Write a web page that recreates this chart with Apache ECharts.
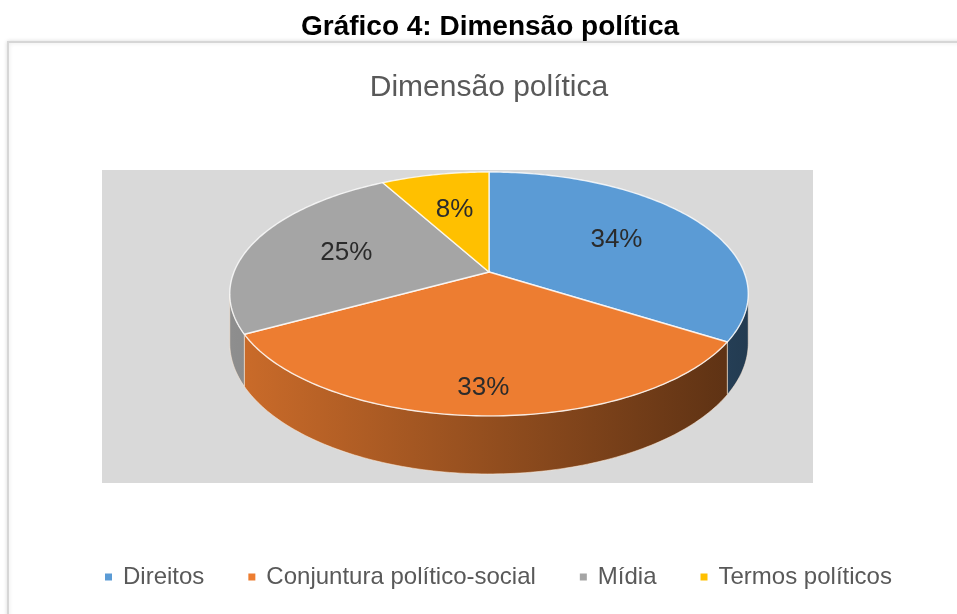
<!DOCTYPE html>
<html>
<head>
<meta charset="utf-8">
<script src="https://cdn.jsdelivr.net/npm/echarts@6/dist/echarts.min.js"></script>
<style>
html, body { margin: 0; padding: 0; background: #fff; }
#chart { width: 957px; height: 614px; }
</style>
</head>
<body>
<div id="chart"></div>
<script>
const categories = ['Direitos', 'Conjuntura político-social', 'Mídia', 'Termos políticos'];
const shares = [34, 33, 25, 8];
const sliceColors = ['#5b9bd5', '#ed7d31', '#a5a5a5', '#ffc000'];
const pageTitle = 'Gráfico 4: Dimensão política';
const chartTitle = 'Dimensão política';

// pie geometry, tilted disc with a little perspective (like the Excel 3D pie)
const pieX = 489, pieY = 272, radX = 255, radY = 118, persp = 0.18, thick = 47.6;
const edgeL = Math.acos(-persp);          // where the side wall becomes visible
const edgeR = Math.PI * 2 - edgeL;

function proj(r, ang, down) {
    let X = r * Math.sin(ang);
    let Z = r * Math.cos(ang);
    let w = 1 + persp * Z;
    return [pieX + radX * X / w, pieY - radY * Z / w + down * thick / w];
}

function arc(a0, a1, down) {
    let pts = [];
    let n = Math.max(2, Math.ceil((a1 - a0) / (Math.PI / 180)));
    for (let i = 0; i <= n; i++) {
        pts.push(proj(1, a0 + (a1 - a0) * i / n, down));
    }
    return pts;
}

function shade(hex, k) {
    let c = parseInt(hex.slice(1), 16);
    let r = Math.round(((c >> 16) & 255) * k);
    let g = Math.round(((c >> 8) & 255) * k);
    let b = Math.round((c & 255) * k);
    return 'rgb(' + r + ',' + g + ',' + b + ')';
}

const total = shares.reduce((a, b) => a + b, 0);

function renderSlice(idx) {
    return function (params, api) {
        let before = 0;
        for (let i = 0; i < idx; i++) before += shares[i];
        let value = api.value(0);
        let a0 = before / total * Math.PI * 2;
        let a1 = (before + value) / total * Math.PI * 2;
        let color = sliceColors[idx];
        let children = [];

        // outer wall, only the front part shows
        let s0 = Math.max(a0, edgeL), s1 = Math.min(a1, edgeR);
        if (s1 > s0) {
            let pts = arc(s0, s1, 0).concat(arc(s0, s1, 1).reverse());
            children.push({
                type: 'polygon',
                shape: { points: pts },
                style: {
                    fill: new echarts.graphic.LinearGradient(232, 0, 748, 0, [
                        { offset: 0, color: shade(color, 0.86) },
                        { offset: 1, color: shade(color, 0.38) }
                    ], true),
                    stroke: 'rgba(255,235,215,0.55)',
                    lineWidth: 1
                }
            });
        }

        // top face
        children.push({
            type: 'polygon',
            shape: { points: [proj(0, 0, 0)].concat(arc(a0, a1, 0)) },
            style: { fill: color, stroke: 'rgba(255,255,255,0.8)', lineWidth: 1.4, lineJoin: 'round' }
        });

        // percent label
        let mid = (a0 + a1) / 2;
        let front = (mid > edgeL && mid < edgeR) ? 0.6 : 0;
        let pos = proj(front ? 0.63 : 0.6, mid, front);
        children.push({
            type: 'text',
            x: pos[0],
            y: pos[1],
            style: {
                text: Math.round(value / total * 100) + '%',
                fontFamily: 'Liberation Sans',
                fontSize: 26,
                fill: '#2b2b2b',
                align: 'center',
                verticalAlign: 'middle'
            }
        });

        return { type: 'group', children: children };
    };
}

let series = [];
for (let i = 0; i < categories.length; i++) {
    series.push({
        name: categories[i],
        type: 'custom',
        coordinateSystem: 'none',
        itemStyle: { color: sliceColors[i] },
        data: [[shares[i]]],
        renderItem: renderSlice(i)
    });
}

let myChart = echarts.init(document.getElementById('chart'), null, { renderer: 'canvas' });

option = {
    animation: false,
    backgroundColor: '#ffffff',
    graphic: [
        {
            type: 'rect',
            shape: { x: 8, y: 42, width: 1000, height: 700 },
            style: { fill: '#ffffff', stroke: '#d6d6d6', lineWidth: 2, shadowBlur: 4, shadowColor: 'rgba(0,0,0,0.12)' }
        },
        {
            type: 'rect',
            shape: { x: 102, y: 170, width: 711, height: 313 },
            style: { fill: '#d9d9d9' }
        },
        {
            type: 'text',
            x: 490,
            y: 27,
            style: {
                text: pageTitle,
                fontFamily: 'Liberation Sans',
                fontWeight: 'bold',
                fontSize: 28,
                fill: '#000000',
                align: 'center',
                verticalAlign: 'middle'
            }
        },
        {
            type: 'text',
            x: 489,
            y: 88,
            style: {
                text: chartTitle,
                fontFamily: 'Liberation Sans',
                fontSize: 30,
                fill: '#595959',
                align: 'center',
                verticalAlign: 'middle'
            }
        }
    ],
    legend: {
        data: categories,
        left: 100,
        top: 560,
        icon: 'rect',
        itemWidth: 7,
        itemHeight: 7,
        itemGap: 44,
        textStyle: {
            fontFamily: 'Liberation Sans',
            fontSize: 24,
            color: '#595959',
            padding: [0, 0, 0, 6]
        }
    },
    series: series
};

myChart.setOption(option);
</script>
</body>
</html>
